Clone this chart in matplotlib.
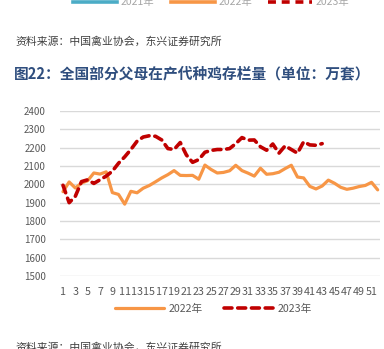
import matplotlib.pyplot as plt
from matplotlib.lines import Line2D

plt.rcParams['font.family'] = ['Noto Sans CJK SC', 'DejaVu Sans']

# Weekly stock, 10k sets
weeks_2022 = list(range(1, 53))
stock_2022 = [1960, 2013, 1980, 2007, 2020, 2062, 2056, 2068, 1955, 1945,
              1892, 1962, 1954, 1979, 1994, 2014, 2035, 2053, 2075, 2049,
              2048, 2049, 2028, 2105, 2081, 2062, 2065, 2074, 2104, 2075,
              2061, 2045, 2088, 2055, 2058, 2066, 2086, 2104, 2040, 2035,
              1989, 1975, 1991, 2023, 2006, 1984, 1973, 1979, 1988, 1994,
              2011, 1970]
weeks_2023 = list(range(1, 44))
stock_2023 = [1995, 1900, 1935, 2015, 2025, 2005, 2025, 2045, 2072, 2115,
              2150, 2190, 2235, 2258, 2265, 2262, 2242, 2195, 2190, 2228,
              2160, 2120, 2135, 2175, 2185, 2190, 2190, 2195, 2222, 2255,
              2241, 2242, 2205, 2186, 2220, 2170, 2210, 2190, 2170, 2232,
              2215, 2213, 2222]
yticks = list(range(1500, 2401, 100))
xticks = list(range(1, 52, 2))

orange = '#F79646'
red = '#C00000'
gray = '#595959'

fig = plt.figure(figsize=(3.84, 3.49), dpi=100)
ax = fig.add_axes([0.156, 0.209, 0.834, 0.473])

ax.plot(weeks_2022, stock_2022, color=orange, linewidth=2.3,
        solid_capstyle='round', solid_joinstyle='round', label='2022年')
ax.plot(weeks_2023, stock_2023, color=red, linewidth=2.6,
        dashes=(2.2, 1.6), dash_capstyle='round', label='2023年')

ax.set_ylim(1500, 2400)
ax.set_xlim(0.5, 52.4)
ax.set_yticks(yticks)
ax.set_xticks(xticks)
ax.tick_params(axis='both', length=0, labelsize=7, labelcolor=gray)
ax.tick_params(axis='x', labelsize=7.7, pad=8)
ax.tick_params(axis='y', pad=10)
ax.grid(axis='y', color='#D9D9D9', linewidth=1)
ax.set_axisbelow(True)
for s in ax.spines.values():
    s.set_visible(False)

fig.legend(loc='center', bbox_to_anchor=(0.555, 0.115), ncol=2, frameon=False,
           fontsize=7.7, labelcolor=gray, handlelength=4.6, columnspacing=2.0,
           handletextpad=0.4)

# Cut-off legend of the previous chart at the very top
top_items = [('2021年', '#4BACC6', '-'), ('2022年', orange, '-'),
             ('2023年', red, (0, (2.2, 1.6)))]
for i, (lab, col, ls) in enumerate(top_items):
    x0 = (73 + i * 97.5) / 384
    fig.add_artist(Line2D([x0, x0 + 44 / 384], [0.994, 0.994], color=col,
                          linewidth=2.6, linestyle=ls, transform=fig.transFigure))
    fig.text(x0 + 48 / 384, 0.994, lab, fontsize=7.5, color='#A6A6A6',
             va='center')

src = '资料来源：中国禽业协会，东兴证券研究所'
fig.text(15 / 384, 1 - 42 / 349, src, fontsize=7.8, color='#404040',
         va='center', fontweight='light')
fig.text(14 / 384, 1 - 73 / 349, '图22：全国部分父母在产代种鸡存栏量（单位：万套）',
         fontsize=10.6, color='#2F4E7E', fontweight='bold', va='center')
fig.text(15 / 384, 0.003, src, fontsize=7.8, color='#404040',
         va='center', fontweight='light')

fig.savefig('out.png', dpi=100)
